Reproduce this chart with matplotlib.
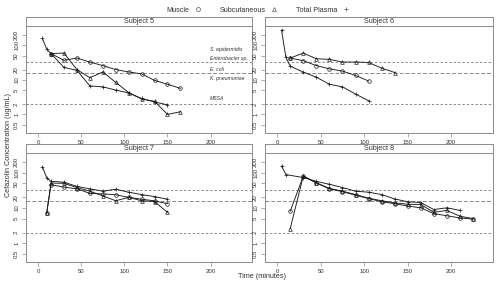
import matplotlib
matplotlib.use("Agg")
import matplotlib.pyplot as plt
from matplotlib.lines import Line2D

plt.rcParams['font.family'] = ['Liberation Sans', 'DejaVu Sans']

# ---------------- data ----------------
subjects = ["Subject 5", "Subject 6", "Subject 7", "Subject 8"]

muscle5_t = [15, 30, 45, 60, 75, 90, 105, 120, 135, 150, 165]
muscle5 = [58, 37, 43, 33, 26, 20, 17, 15, 9.7, 7.5, 5.7]
subq5_t = [15, 30, 45, 60, 75, 90, 105, 120, 135, 150, 165]
subq5 = [58, 60, 20, 11.6, 17, 8.5, 4.3, 2.8, 2.4, 1.0, 1.2]
plasma5_t = [5, 10, 15, 30, 45, 60, 75, 90, 105, 120, 135, 150]
plasma5 = [160, 78, 58, 23, 19, 6.7, 6.3, 5.1, 4.2, 2.9, 2.3, 1.9]

muscle6_t = [15, 30, 45, 60, 75, 90, 105]
muscle6 = [43, 36, 26, 21, 18, 13.5, 9.3]
subq6_t = [15, 30, 45, 60, 75, 90, 105, 120, 135]
subq6 = [43, 60, 41, 39.5, 33, 33, 32, 22, 16.4]
plasma6_t = [5, 10, 15, 30, 45, 60, 75, 90, 105]
plasma6 = [278, 45, 25, 16.8, 12, 7.5, 6.3, 3.9, 2.5]

muscle7_t = [10, 15, 30, 45, 60, 75, 90, 105, 120, 135, 150]
muscle7 = [7.2, 46, 39, 35, 26, 25, 23.7, 20, 17.7, 15.9, 13.2]
subq7_t = [10, 15, 30, 45, 60, 75, 90, 105, 120, 135, 150]
subq7 = [7.2, 51, 50, 38, 30, 22, 16, 20, 16, 15.2, 7.5]
plasma7_t = [5, 10, 15, 30, 45, 60, 75, 90, 105, 120, 135, 150]
plasma7 = [149, 71, 57, 54, 41, 35, 30, 34, 28, 24, 21, 17.7]

muscle8_t = [15, 30, 45, 60, 75, 90, 105, 120, 135, 150, 165, 180, 195, 210, 225]
muscle8 = [8.1, 80, 51, 35, 29, 23, 18.5, 15, 13.2, 11.3, 10.1, 6.9, 6.0, 5.2, 4.8]
subq8_t = [15, 30, 45, 60, 75, 90, 105, 120, 135, 150, 165, 180, 195, 210, 225]
subq8 = [2.6, 81, 52, 36, 30, 24, 19, 16, 14, 12.7, 12.5, 7.5, 8.5, 5.8, 5.0]
plasma8_t = [5, 10, 30, 45, 60, 75, 90, 105, 120, 135, 150, 165, 180, 195, 210]
plasma8 = [156, 89, 73, 57, 47, 38, 30, 28, 24, 18, 15, 14.2, 9, 10.1, 8.5]

series = {
    "Subject 5": [(muscle5_t, muscle5), (subq5_t, subq5), (plasma5_t, plasma5)],
    "Subject 6": [(muscle6_t, muscle6), (subq6_t, subq6), (plasma6_t, plasma6)],
    "Subject 7": [(muscle7_t, muscle7), (subq7_t, subq7), (plasma7_t, plasma7)],
    "Subject 8": [(muscle8_t, muscle8), (subq8_t, subq8), (plasma8_t, plasma8)],
}
series_names = ["Muscle", "Subcutaneous", "Total Plasma"]
markers = ["o", "^", "+"]

mic_values = [32, 16, 2]
mic_labels = [("S. epidermidis", 74), ("Enterobacter sp.", 41),
              ("E. coli", 19.5), ("K. pneumoniae", 10.9), ("MSSA", 2.9)]

yticks = [0.5, 1, 2, 5, 10, 20, 50, 100, 200]
ytick_labels = ["0.5", "1", "2", "5", "10", "20", "50", "100", "200"]
xticks = [0, 50, 100, 150, 200]

# ---------------- layout ----------------
W, H = 500, 289
fig = plt.figure(figsize=(W / 100, H / 100), dpi=100)

boxes = {
    "Subject 5": (26, 252, 26, 133),
    "Subject 6": (265, 493, 26, 133),
    "Subject 7": (26, 252, 153, 262),
    "Subject 8": (265, 493, 153, 262),
}
strip_h = 9
frame_col = "#8c8c8c"
text_col = "#333333"
line_col = "#1a1a1a"

for name in subjects:
    x0, x1, y0, y1 = boxes[name]
    ax = fig.add_axes([x0 / W, 1 - y1 / H, (x1 - x0) / W, (y1 - y0) / H])
    ax.set_yscale("log")
    ax.set_xlim(-14, 248)
    ax.set_ylim(0.29, 365)
    for v, ls in zip(mic_values, [(0, (2.5, 2)), (0, (4, 2)), (0, (2.5, 2))]):
        ax.axhline(v, color="#8a8a8a", lw=0.7, linestyle=ls, zorder=1)
    for (t, c), m in zip(series[name], markers):
        ax.plot(t, c, color=line_col, lw=0.65, marker=m, markersize=2.6,
                markerfacecolor="none", markeredgewidth=0.5, zorder=3)
    ax.set_yticks(yticks)
    ax.set_yticklabels(ytick_labels, rotation=90, va="center")
    ax.minorticks_off()
    ax.set_xticks(xticks)
    ax.set_xticklabels([str(v) for v in xticks])
    ax.tick_params(axis="both", length=3, width=0.5, color=frame_col,
                   labelsize=4.3, labelcolor=text_col, pad=2)
    for s in ax.spines.values():
        s.set_color(frame_col)
        s.set_linewidth(0.7)
    if name == "Subject 5":
        for lab, yv in mic_labels:
            ax.text(199, yv, lab, fontsize=3.7, style="italic",
                    color=text_col, va="center", ha="left")
    # strip
    sx = fig.add_axes([x0 / W, 1 - y0 / H, (x1 - x0) / W, strip_h / H])
    sx.set_xticks([])
    sx.set_yticks([])
    for s in sx.spines.values():
        s.set_color(frame_col)
        s.set_linewidth(0.7)
    sx.text(0.5, 0.45, name, transform=sx.transAxes, ha="center", va="center",
            fontsize=5.2, color=text_col)

# legend on top
handles = [Line2D([], [], linestyle="none", marker=m, markersize=2.8,
                  markerfacecolor="none", markeredgewidth=0.5, color="#555555")
           for m in markers]
fig.legend(handles, series_names, ncol=3, markerfirst=False, frameon=False,
           loc="center", bbox_to_anchor=(258 / W, 1 - 10 / H), fontsize=5.2,
           handlelength=1.0, handletextpad=0.6, columnspacing=2.6,
           labelcolor=text_col)

fig.text(9 / W, 1 - 145 / H, "Cefazolin Concentration (ug/mL)", rotation=90,
         ha="center", va="center", fontsize=5.2, color=text_col)
fig.text(262 / W, 1 - 277 / H, "Time (minutes)", ha="center", va="center",
         fontsize=5.2, color=text_col)

fig.savefig("out.png", dpi=100)
